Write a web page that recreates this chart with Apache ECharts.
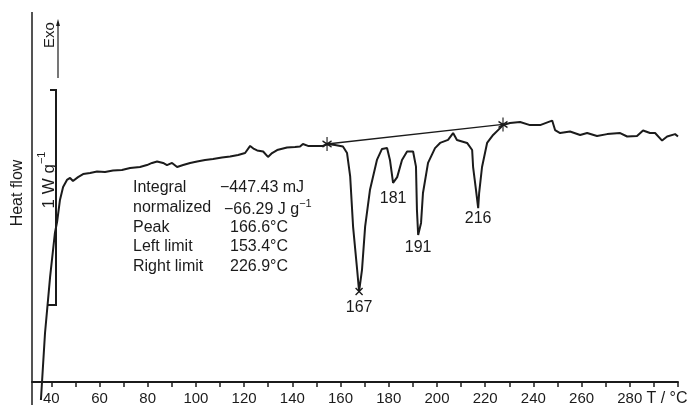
<!DOCTYPE html>
<html>
<head>
<meta charset="utf-8">
<script src="https://cdn.jsdelivr.net/npm/echarts@6/dist/echarts.min.js"></script>
<style>
  html, body { margin: 0; padding: 0; background: #fff; }
  #main { width: 693px; height: 408px; }
</style>
</head>
<body>
<div id="main"></div>
<script>
// DSC trace, temperature in °C, heat flow in W/g (relative, exo up)
const temps = [35.7, 37.4, 39.5, 41.5, 42.4, 43.6, 44.9, 46.5, 47.8, 49.0, 51.1, 53.2, 56.1, 59.0, 62.3, 65.6,
  69.3, 72.7, 76.8, 79.7, 81.8, 83.9, 86.4, 88.0, 90.1, 92.2, 94.7, 97.6, 100.5, 103.8, 107.1, 110.8, 114.2,
  117.5, 120.4, 122.5, 124.1, 125.4, 127.9, 129.9, 131.6, 133.7, 137.8, 141.1, 143.2, 144.4, 146.5, 149.8,
  152.7, 154.4, 157.7, 161.0, 162.7, 164.0, 165.2, 166.9, 167.7, 168.9, 170.2, 172.2, 175.1, 177.2, 179.3,
  180.5, 181.8, 183.5, 185.5, 187.6, 190.1, 191.3, 191.7, 192.2, 193.4, 194.2, 196.3, 199.2, 201.3, 204.6,
  206.7, 208.3, 212.5, 214.6, 215.0, 216.2, 217.1, 217.5, 218.7, 220.8, 223.3, 226.2, 227.4, 230.3, 234.5,
  238.6, 242.8, 246.1, 247.8, 249.0, 251.1, 255.2, 259.4, 262.3, 266.4, 270.6, 276.0, 278.9, 283.0, 285.5,
  288.4, 290.5, 293.4, 295.5, 298.8, 300.0];
const heatFlow = [-0.084, 0.228, 0.488, 0.693, 0.744, 0.847, 0.907, 0.940, 0.949, 0.935, 0.953, 0.967, 0.972,
  0.979, 0.977, 0.984, 0.986, 0.995, 1.000, 1.009, 1.019, 1.026, 1.019, 1.009, 1.019, 1.000, 1.009, 1.019,
  1.026, 1.033, 1.037, 1.044, 1.049, 1.056, 1.065, 1.098, 1.084, 1.077, 1.072, 1.047, 1.065, 1.079, 1.091,
  1.093, 1.095, 1.107, 1.098, 1.098, 1.098, 1.107, 1.102, 1.095, 1.065, 0.956, 0.723, 0.521, 0.421, 0.521,
  0.723, 0.893, 1.033, 1.084, 1.088, 1.033, 0.926, 0.953, 1.033, 1.072, 1.072, 1.002, 0.800, 0.684, 0.740,
  0.879, 1.019, 1.088, 1.112, 1.126, 1.158, 1.126, 1.112, 1.079, 1.000, 0.893, 0.809, 0.879, 1.000, 1.112,
  1.149, 1.181, 1.195, 1.205, 1.209, 1.195, 1.195, 1.209, 1.216, 1.172, 1.158, 1.165, 1.149, 1.158, 1.144,
  1.153, 1.158, 1.142, 1.144, 1.170, 1.158, 1.158, 1.123, 1.142, 1.153, 1.142];

// integration baseline (left / right limit)
const baseTemps = [154.4, 227.4];
const baseFlow = [1.107, 1.198];

// peak minima and their labels
const peakTemps = [167.7, 181.8, 192.2, 217.1];
const peakFlow = [0.421, 0.926, 0.684, 0.809];
const peakLabels = ['167', '181', '191', '216'];

// axis ticks
const tickValues = [40, 50, 60, 70, 80, 90, 100, 110, 120, 130, 140, 150, 160, 170, 180, 190, 200, 210, 220,
  230, 240, 250, 260, 270, 280, 290, 300];
const tickLabels = [40, 60, 80, 100, 120, 140, 160, 180, 200, 220, 240, 260, 280, 300];

// integration results
const resultNames = ['Integral', 'normalized', 'Peak', 'Left limit', 'Right limit'];
const resultValues = ['−447.43 mJ', '−66.29 J g', '166.6°C', '153.4°C', '226.9°C'];

const ink = '#1b1b1b';
const font = '"Liberation Sans", Arial, sans-serif';

const chart = echarts.init(document.getElementById('main'));

const labelGap = [8, 8, 5, 3];
const valueX = [220, 224, 230, 230, 230];

const resultText = [];
resultNames.forEach((n, i) => {
  const y = 188 + i * 19.6;
  resultText.push({
    type: 'text', x: 133, y: y,
    style: { text: n, font: '16px ' + font, fill: ink, verticalAlign: 'middle' }
  });
  resultText.push({
    type: 'text', x: valueX[i], y: y,
    style: {
      text: i === 1 ? '{v|' + resultValues[i] + '}{s|−1}' : resultValues[i],
      font: '16px ' + font, fill: ink, verticalAlign: 'middle',
      rich: {
        v: { fontSize: 16, fontFamily: font, fill: ink, verticalAlign: 'bottom', lineHeight: 19 },
        s: { fontSize: 11, fontFamily: font, fill: ink, verticalAlign: 'top', lineHeight: 19 }
      }
    }
  });
});

const option = {
  backgroundColor: '#fff',
  animation: false,
  grid: { left: 32, right: 15, top: 12, bottom: 26, outerBoundsMode: 'none' },
  xAxis: {
    type: 'value',
    min: 32,
    max: 300,
    axisLine: { onZero: false, lineStyle: { color: ink, width: 2 } },
    axisTick: { length: 5, lineStyle: { color: ink, width: 1.5 }, customValues: tickValues },
    axisLabel: {
      customValues: tickLabels,
      margin: 9,
      color: ink,
      fontSize: 15,
      fontFamily: font,
      formatter: v => v === 300 ? '{u|T / °C}' : String(v),
      rich: { u: { fontSize: 16, fontFamily: font, color: ink, padding: [0, 22, 0, 0] } }
    },
    splitLine: { show: false }
  },
  yAxis: {
    type: 'value',
    min: 0,
    max: 1.721,
    axisLine: { show: false },
    axisTick: { show: false },
    axisLabel: { show: false },
    splitLine: { show: false }
  },
  series: [
    {
      type: 'line',
      data: temps.map((t, i) => [t, heatFlow[i]]),
      showSymbol: false,
      clip: false,
      lineStyle: { color: ink, width: 2 }
    },
    {
      type: 'line',
      data: baseTemps.map((t, i) => [t, baseFlow[i]]),
      showSymbol: false,
      lineStyle: { color: ink, width: 1.3 }
    },
    {
      type: 'scatter',
      data: baseTemps.map((t, i) => [t, baseFlow[i]]),
      symbol: 'path://M5,0L5,14M1,4L9,10M9,4L1,10',
      symbolSize: [9, 14],
      itemStyle: { color: 'none', borderColor: ink, borderWidth: 1.4, opacity: 1 }
    },
    {
      type: 'scatter',
      data: [[peakTemps[0], peakFlow[0]]],
      symbol: 'path://M0,0L8,8M8,0L0,8',
      symbolSize: 7,
      itemStyle: { color: 'none', borderColor: ink, borderWidth: 1.4, opacity: 1 }
    },
    {
      type: 'scatter',
      symbolSize: 0,
      itemStyle: { opacity: 1 },
      data: peakTemps.map((t, i) => ({
        value: [t, peakFlow[i]],
        label: {
          show: true, position: 'bottom', distance: labelGap[i],
          formatter: peakLabels[i], color: ink, fontSize: 16, fontFamily: font
        }
      }))
    }
  ],
  graphic: [
    {
      type: 'line', shape: { x1: 32, y1: 12, x2: 32, y2: 405 },
      style: { stroke: ink, lineWidth: 1.5 }
    },
    {
      type: 'text', x: 18, y: 193, rotation: Math.PI / 2,
      style: { text: 'Heat flow', font: '16px ' + font, fill: ink, align: 'center', verticalAlign: 'middle' }
    },
    {
      type: 'text', x: 47, y: 180, rotation: Math.PI / 2,
      style: {
        text: '{a|1 W g}{b|−1}', align: 'center', verticalAlign: 'middle',
        rich: {
          a: { fontSize: 17, fontFamily: font, fill: ink, verticalAlign: 'bottom', lineHeight: 21 },
          b: { fontSize: 11, fontFamily: font, fill: ink, verticalAlign: 'top', lineHeight: 21 }
        }
      }
    },
    {
      type: 'text', x: 50, y: 35, rotation: Math.PI / 2,
      style: { text: 'Exo', font: '15px ' + font, fill: ink, align: 'center', verticalAlign: 'middle' }
    },
    {
      type: 'line', shape: { x1: 58, y1: 78, x2: 58, y2: 24 },
      style: { stroke: ink, lineWidth: 1.2 }
    },
    {
      type: 'polygon', shape: { points: [[58, 19], [56, 26], [60, 26]] },
      style: { fill: ink }
    },
    {
      type: 'polyline', shape: { points: [[50, 90], [56, 90], [56, 305], [47, 305]] },
      style: { stroke: ink, lineWidth: 2, fill: null }
    }
  ].concat(resultText)
};

chart.setOption(option);
</script>
</body>
</html>
